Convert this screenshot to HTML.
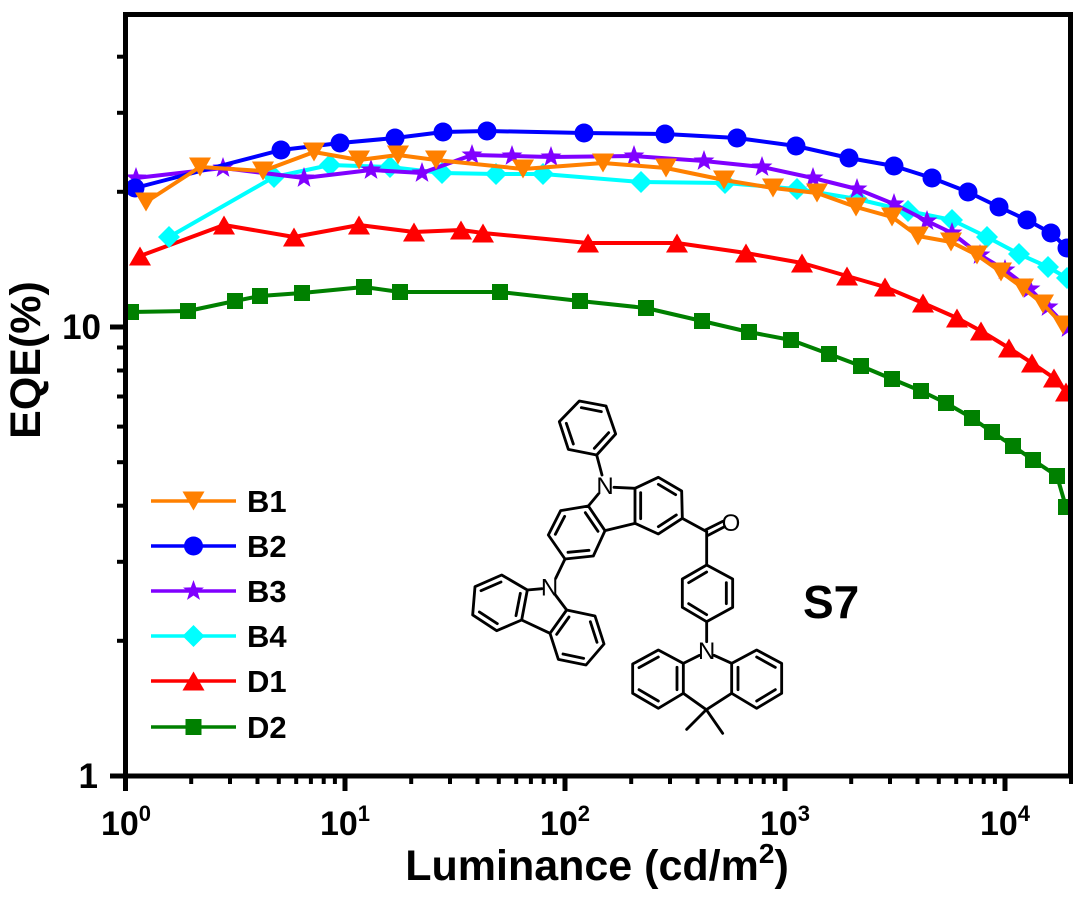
<!DOCTYPE html>
<html><head><meta charset="utf-8"><style>
html,body{margin:0;padding:0;background:#fff;}
svg{display:block;font-family:"Liberation Sans",Arial,sans-serif;}
</style></head><body>
<svg width="1087" height="898" viewBox="0 0 1087 898" xmlns="http://www.w3.org/2000/svg">
<defs>
<path id="tdn" d="M-11,-9.5 L11,-9.5 L0,9.5 Z"/>
<path id="tup" d="M-11,9.5 L11,9.5 L0,-9.5 Z"/>
<circle id="cir" cx="0" cy="0" r="9.5"/>
<path id="str" d="M0,-11 L2.65,-3.64 L10.46,-3.4 L4.28,1.39 L6.47,8.9 L0,4.5 L-6.47,8.9 L-4.28,1.39 L-10.46,-3.4 L-2.65,-3.64 Z"/>
<path id="dia" d="M0,-11 L11,0 L0,11 L-11,0 Z"/>
<rect id="sq" x="-8" y="-8" width="16" height="16"/>
<clipPath id="pc"><rect x="125" y="14" width="945" height="762"/></clipPath>
</defs>
<rect width="1087" height="898" fill="#fff"/>

<g clip-path="url(#pc)" stroke-linejoin="round">
<!-- D2 -->
<g fill="#008000">
<polyline fill="none" stroke="#008000" stroke-width="4" points="131,312 188,311 235,301 260,296 302,293 364,287 400,292 500,292 580,301 646,308 702,321 749,332 791,340 829,354 861,366 892,379 921,391 946,403 972,418 992,432 1013,446 1033,460 1057,476 1066,507"/>
<use href="#sq" x="131" y="312"/><use href="#sq" x="188" y="311"/><use href="#sq" x="235" y="301"/><use href="#sq" x="260" y="296"/><use href="#sq" x="302" y="293"/><use href="#sq" x="364" y="287"/><use href="#sq" x="400" y="292"/><use href="#sq" x="500" y="292"/><use href="#sq" x="580" y="301"/><use href="#sq" x="646" y="308"/><use href="#sq" x="702" y="321"/><use href="#sq" x="749" y="332"/><use href="#sq" x="791" y="340"/><use href="#sq" x="829" y="354"/><use href="#sq" x="861" y="366"/><use href="#sq" x="892" y="379"/><use href="#sq" x="921" y="391"/><use href="#sq" x="946" y="403"/><use href="#sq" x="972" y="418"/><use href="#sq" x="992" y="432"/><use href="#sq" x="1013" y="446"/><use href="#sq" x="1033" y="460"/><use href="#sq" x="1057" y="476"/><use href="#sq" x="1066" y="507"/>
</g>
<!-- D1 -->
<g fill="#ff0000">
<polyline fill="none" stroke="#ff0000" stroke-width="4" points="140,256 224,225 294,237 359,225 414,232 461,230 483,233 588,243 677,243 746,253 802,263 847,276 885,287 923,303 957,318 981,331 1009,348 1032,363 1054,378 1066,392"/>
<use href="#tup" x="140" y="256"/><use href="#tup" x="224" y="225"/><use href="#tup" x="294" y="237"/><use href="#tup" x="359" y="225"/><use href="#tup" x="414" y="232"/><use href="#tup" x="461" y="230"/><use href="#tup" x="483" y="233"/><use href="#tup" x="588" y="243"/><use href="#tup" x="677" y="243"/><use href="#tup" x="746" y="253"/><use href="#tup" x="802" y="263"/><use href="#tup" x="847" y="276"/><use href="#tup" x="885" y="287"/><use href="#tup" x="923" y="303"/><use href="#tup" x="957" y="318"/><use href="#tup" x="981" y="331"/><use href="#tup" x="1009" y="348"/><use href="#tup" x="1032" y="363"/><use href="#tup" x="1054" y="378"/><use href="#tup" x="1066" y="392"/>
</g>
<!-- B4 -->
<g fill="#00ffff">
<polyline fill="none" stroke="#00ffff" stroke-width="4" points="169,237 274,177 330,165 390,167 442,173 496,174 543,174 641,182 725,183 797,189 857,199 908,211 952,220 987,237 1019,254 1048,267 1067,278"/>
<use href="#dia" x="169" y="237"/><use href="#dia" x="274" y="177"/><use href="#dia" x="330" y="165"/><use href="#dia" x="390" y="167"/><use href="#dia" x="442" y="173"/><use href="#dia" x="496" y="174"/><use href="#dia" x="543" y="174"/><use href="#dia" x="641" y="182"/><use href="#dia" x="725" y="183"/><use href="#dia" x="797" y="189"/><use href="#dia" x="857" y="199"/><use href="#dia" x="908" y="211"/><use href="#dia" x="952" y="220"/><use href="#dia" x="987" y="237"/><use href="#dia" x="1019" y="254"/><use href="#dia" x="1048" y="267"/><use href="#dia" x="1067" y="278"/>
</g>
<!-- B3 -->
<g fill="#8000ff">
<polyline fill="none" stroke="#8000ff" stroke-width="4" points="136,178 223,168 304,178 371,170 422,173 472,155 512,156 551,157 634,156 704,161 762,167 813,178 857,189 894,204 927,221 952,233 980,255 1005,270 1030,289 1048,307 1068,328"/>
<use href="#str" x="136" y="178"/><use href="#str" x="223" y="168"/><use href="#str" x="304" y="178"/><use href="#str" x="371" y="170"/><use href="#str" x="422" y="173"/><use href="#str" x="472" y="155"/><use href="#str" x="512" y="156"/><use href="#str" x="551" y="157"/><use href="#str" x="634" y="156"/><use href="#str" x="704" y="161"/><use href="#str" x="762" y="167"/><use href="#str" x="813" y="178"/><use href="#str" x="857" y="189"/><use href="#str" x="894" y="204"/><use href="#str" x="927" y="221"/><use href="#str" x="952" y="233"/><use href="#str" x="980" y="255"/><use href="#str" x="1005" y="270"/><use href="#str" x="1030" y="289"/><use href="#str" x="1048" y="307"/><use href="#str" x="1068" y="328"/>
</g>
<!-- B2 -->
<g fill="#0000ff">
<polyline fill="none" stroke="#0000ff" stroke-width="4" points="135,188 281,150 340,143 395,138 443,132 487,131 584,133 665,134 737,138 796,146 849,158 894,166 932,178 968,192 999,207 1027,220 1051,233 1067,248"/>
<use href="#cir" x="135" y="188"/><use href="#cir" x="281" y="150"/><use href="#cir" x="340" y="143"/><use href="#cir" x="395" y="138"/><use href="#cir" x="443" y="132"/><use href="#cir" x="487" y="131"/><use href="#cir" x="584" y="133"/><use href="#cir" x="665" y="134"/><use href="#cir" x="737" y="138"/><use href="#cir" x="796" y="146"/><use href="#cir" x="849" y="158"/><use href="#cir" x="894" y="166"/><use href="#cir" x="932" y="178"/><use href="#cir" x="968" y="192"/><use href="#cir" x="999" y="207"/><use href="#cir" x="1027" y="220"/><use href="#cir" x="1051" y="233"/><use href="#cir" x="1067" y="248"/>
</g>
<!-- B1 -->
<g fill="#ff8000">
<polyline fill="none" stroke="#ff8000" stroke-width="4" points="146,202 200,167 263,171 314,152 359,160 398,155 436,160 523,169 603,163 666,168 724,180 773,188 817,193 856,207 892,217 918,236 951,242 977,255 1001,272 1023,288 1043,304 1063,325"/>
<use href="#tdn" x="146" y="202"/><use href="#tdn" x="200" y="167"/><use href="#tdn" x="263" y="171"/><use href="#tdn" x="314" y="152"/><use href="#tdn" x="359" y="160"/><use href="#tdn" x="398" y="155"/><use href="#tdn" x="436" y="160"/><use href="#tdn" x="523" y="169"/><use href="#tdn" x="603" y="163"/><use href="#tdn" x="666" y="168"/><use href="#tdn" x="724" y="180"/><use href="#tdn" x="773" y="188"/><use href="#tdn" x="817" y="193"/><use href="#tdn" x="856" y="207"/><use href="#tdn" x="892" y="217"/><use href="#tdn" x="918" y="236"/><use href="#tdn" x="951" y="242"/><use href="#tdn" x="977" y="255"/><use href="#tdn" x="1001" y="272"/><use href="#tdn" x="1023" y="288"/><use href="#tdn" x="1043" y="304"/><use href="#tdn" x="1063" y="325"/>
</g>
</g>

<!-- Axes frame -->
<rect x="125.5" y="14.5" width="945" height="761.5" fill="none" stroke="#000" stroke-width="5"/>

<!-- Y ticks -->
<g stroke="#000">
<line x1="110" y1="327" x2="125" y2="327" stroke-width="5"/>
<line x1="110" y1="776" x2="125" y2="776" stroke-width="5"/>
<g stroke-width="4">
<line x1="117" y1="640.8" x2="125" y2="640.8"/>
<line x1="117" y1="561.8" x2="125" y2="561.8"/>
<line x1="117" y1="505.7" x2="125" y2="505.7"/>
<line x1="117" y1="462.2" x2="125" y2="462.2"/>
<line x1="117" y1="426.6" x2="125" y2="426.6"/>
<line x1="117" y1="396.5" x2="125" y2="396.5"/>
<line x1="117" y1="370.5" x2="125" y2="370.5"/>
<line x1="117" y1="347.5" x2="125" y2="347.5"/>
<line x1="117" y1="191.8" x2="125" y2="191.8"/>
<line x1="117" y1="112.8" x2="125" y2="112.8"/>
<line x1="117" y1="56.7" x2="125" y2="56.7"/>
</g>
</g>

<!-- X ticks -->
<g stroke="#000">
<g stroke-width="5">
<line x1="125.5" y1="776" x2="125.5" y2="791"/>
<line x1="345" y1="776" x2="345" y2="791"/>
<line x1="565" y1="776" x2="565" y2="791"/>
<line x1="785" y1="776" x2="785" y2="791"/>
<line x1="1005" y1="776" x2="1005" y2="791"/>
</g>
<g stroke-width="4">
<line x1="191.2" y1="776" x2="191.2" y2="784"/><line x1="230" y1="776" x2="230" y2="784"/><line x1="257.5" y1="776" x2="257.5" y2="784"/><line x1="278.8" y1="776" x2="278.8" y2="784"/><line x1="296.2" y1="776" x2="296.2" y2="784"/><line x1="310.9" y1="776" x2="310.9" y2="784"/><line x1="323.7" y1="776" x2="323.7" y2="784"/><line x1="334.9" y1="776" x2="334.9" y2="784"/>
<line x1="411.2" y1="776" x2="411.2" y2="784"/><line x1="450" y1="776" x2="450" y2="784"/><line x1="477.5" y1="776" x2="477.5" y2="784"/><line x1="498.8" y1="776" x2="498.8" y2="784"/><line x1="516.2" y1="776" x2="516.2" y2="784"/><line x1="530.9" y1="776" x2="530.9" y2="784"/><line x1="543.7" y1="776" x2="543.7" y2="784"/><line x1="554.9" y1="776" x2="554.9" y2="784"/>
<line x1="631.2" y1="776" x2="631.2" y2="784"/><line x1="670" y1="776" x2="670" y2="784"/><line x1="697.5" y1="776" x2="697.5" y2="784"/><line x1="718.8" y1="776" x2="718.8" y2="784"/><line x1="736.2" y1="776" x2="736.2" y2="784"/><line x1="750.9" y1="776" x2="750.9" y2="784"/><line x1="763.7" y1="776" x2="763.7" y2="784"/><line x1="774.9" y1="776" x2="774.9" y2="784"/>
<line x1="851.2" y1="776" x2="851.2" y2="784"/><line x1="890" y1="776" x2="890" y2="784"/><line x1="917.5" y1="776" x2="917.5" y2="784"/><line x1="938.8" y1="776" x2="938.8" y2="784"/><line x1="956.2" y1="776" x2="956.2" y2="784"/><line x1="970.9" y1="776" x2="970.9" y2="784"/><line x1="983.7" y1="776" x2="983.7" y2="784"/><line x1="994.9" y1="776" x2="994.9" y2="784"/>
<line x1="1071" y1="776" x2="1071" y2="784"/>
</g>
</g>

<!-- Tick labels -->
<g font-weight="bold" fill="#000">
<text x="101" y="339" font-size="35" text-anchor="end">10</text>
<text x="98" y="788" font-size="35" text-anchor="end">1</text>
<g font-size="34" text-anchor="middle">
<text x="126" y="835">10<tspan font-size="22" dy="-14">0</tspan></text>
<text x="345" y="835">10<tspan font-size="22" dy="-14">1</tspan></text>
<text x="565" y="835">10<tspan font-size="22" dy="-14">2</tspan></text>
<text x="785" y="835">10<tspan font-size="22" dy="-14">3</tspan></text>
<text x="1005" y="835">10<tspan font-size="22" dy="-14">4</tspan></text>
</g>
<text x="597" y="880" font-size="43" text-anchor="middle">Luminance (cd/m<tspan font-size="28" dy="-17">2</tspan><tspan dy="17">)</tspan></text>
<text transform="translate(40,360) rotate(-90)" font-size="43" text-anchor="middle">EQE(%)</text>
</g>

<!-- Legend -->
<g stroke-width="3.5">
<line x1="151" y1="501" x2="236" y2="501" stroke="#ff8000"/>
<line x1="151" y1="546" x2="236" y2="546" stroke="#0000ff"/>
<line x1="151" y1="591" x2="236" y2="591" stroke="#8000ff"/>
<line x1="151" y1="636" x2="236" y2="636" stroke="#00ffff"/>
<line x1="151" y1="681" x2="236" y2="681" stroke="#ff0000"/>
<line x1="151" y1="727" x2="236" y2="727" stroke="#008000"/>
</g>
<use href="#tdn" x="193.5" y="501" fill="#ff8000"/>
<use href="#cir" x="193.5" y="546" fill="#0000ff"/>
<use href="#str" x="193.5" y="591" fill="#8000ff"/>
<use href="#dia" x="193.5" y="636" fill="#00ffff"/>
<use href="#tup" x="193.5" y="681" fill="#ff0000"/>
<use href="#sq" x="193.5" y="727" fill="#008000"/>
<g font-weight="bold" font-size="31" fill="#000">
<text x="247" y="512">B1</text>
<text x="247" y="557">B2</text>
<text x="247" y="602">B3</text>
<text x="247" y="647">B4</text>
<text x="247" y="692">D1</text>
<text x="247" y="738">D2</text>
</g>

<!-- S7 label -->
<text x="803" y="618" font-size="46" font-weight="bold" fill="#000">S7</text>

<!-- Molecule -->
<g transform="translate(450 360) scale(0.33333)" stroke="#000" stroke-width="8.5" fill="none" stroke-linejoin="round" stroke-linecap="round">
<polygon points="388,123 468,138 497,222 440,285 355,268 328,185"/>
<line x1="394" y1="143" x2="454" y2="155"/>
<line x1="476" y1="218" x2="433" y2="265"/>
<line x1="370" y1="252" x2="349" y2="190"/>
<line x1="440" y1="285" x2="456" y2="345"/>
<polygon points="415,438 332,452 295,525 345,597 430,588 465,512"/>
<line x1="344" y1="469" x2="316" y2="523"/>
<line x1="354" y1="577" x2="417" y2="571"/>
<line x1="444" y1="514" x2="406" y2="458"/>
<polygon points="555,385 625,352 695,393 697,475 625,522 555,490"/>
<line x1="625" y1="373" x2="677" y2="404"/>
<line x1="679" y1="465" x2="625" y2="500"/>
<line x1="572" y1="476" x2="572" y2="398"/>
<line x1="492" y1="382" x2="555" y2="385"/>
<line x1="445" y1="402" x2="415" y2="438"/>
<line x1="465" y1="512" x2="555" y2="490"/>
<line x1="697" y1="475" x2="770" y2="515"/>
<line x1="766" y1="510" x2="818" y2="484"/>
<line x1="774" y1="526" x2="824" y2="500"/>
<line x1="770" y1="515" x2="770" y2="615"/>
<polygon points="770,615 848,657 848,742 770,785 697,742 697,657"/>
<line x1="829" y1="668" x2="829" y2="731"/>
<line x1="770" y1="764" x2="716" y2="731"/>
<line x1="716" y1="668" x2="770" y2="636"/>
<line x1="770" y1="785" x2="770" y2="845"/>
<polygon points="700,910 625,870 548,912 548,1000 625,1045 700,1000"/>
<line x1="625" y1="891" x2="567" y2="923"/>
<line x1="567" y1="989" x2="625" y2="1023"/>
<line x1="681" y1="989" x2="681" y2="922"/>
<polygon points="845,910 920,870 995,910 995,1000 920,1045 845,1000"/>
<line x1="920" y1="891" x2="976" y2="922"/>
<line x1="976" y1="989" x2="920" y2="1023"/>
<line x1="864" y1="989" x2="864" y2="922"/>
<line x1="748" y1="886" x2="700" y2="910"/>
<line x1="792" y1="886" x2="845" y2="910"/>
<line x1="700" y1="1000" x2="769" y2="1049"/>
<line x1="845" y1="1000" x2="769" y2="1049"/>
<line x1="769" y1="1049" x2="710" y2="1108"/>
<line x1="769" y1="1049" x2="818" y2="1120"/>
<line x1="345" y1="597" x2="317" y2="655"/>
<polygon points="232,690 155,645 75,680 68,765 140,812 215,780"/>
<line x1="153" y1="666" x2="93" y2="692"/>
<line x1="88" y1="756" x2="142" y2="791"/>
<line x1="198" y1="767" x2="211" y2="700"/>
<line x1="276" y1="686" x2="232" y2="690"/>
<line x1="314" y1="702" x2="350" y2="750"/>
<line x1="215" y1="780" x2="300" y2="820"/>
<polygon points="300,820 350,750 435,768 462,852 408,915 325,898"/>
<line x1="320" y1="823" x2="357" y2="771"/>
<line x1="421" y1="785" x2="441" y2="847"/>
<line x1="401" y1="895" x2="339" y2="882"/>
</g>
<g font-size="24" fill="#000" text-anchor="middle">
<text x="605" y="494">N</text>
<text x="706.7" y="659">N</text>
<text x="549.5" y="595.7">N</text>
<text x="731" y="531">O</text>
</g>
</svg>
</body></html>
